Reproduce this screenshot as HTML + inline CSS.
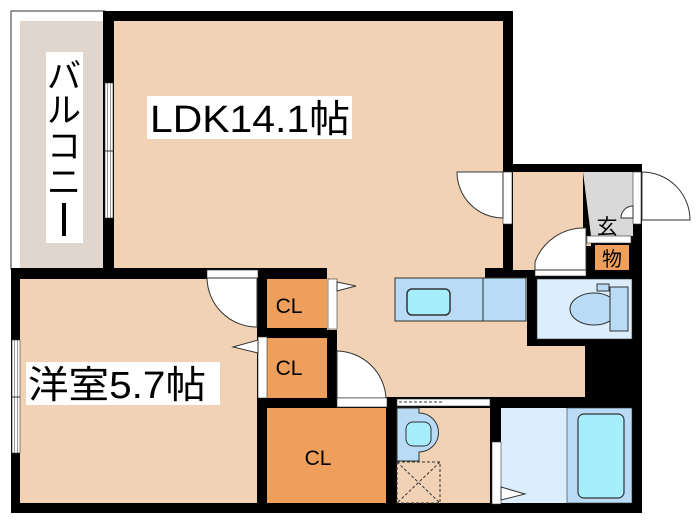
<!DOCTYPE html>
<html><head><meta charset="utf-8"><style>body{margin:0;background:#fff}svg{display:block}</style></head><body>
<svg width="700" height="525" viewBox="0 0 700 525" xmlns="http://www.w3.org/2000/svg" font-family="'Liberation Sans','Noto Sans CJK JP',sans-serif">
<rect width="700" height="525" fill="#fff"/>
<!-- balcony -->
<rect x="11" y="11" width="94" height="258" fill="#fff" stroke="#333" stroke-width="1"/>
<rect x="20" y="21" width="84" height="247" fill="#e0d6cd"/>
<!-- black base -->
<polygon points="103,11 513,11 513,164 642,164 642,513 11,513 11,268 103,268" fill="#000"/>
<!-- LDK floor -->
<rect x="114" y="21" width="389" height="247" fill="#f2d2b5"/>
<rect x="337" y="268" width="248" height="129" fill="#f2d2b5"/>
<rect x="327" y="268" width="12" height="62" fill="#f2d2b5"/>
<rect x="485" y="268" width="42" height="10" fill="#000"/>
<rect x="527" y="268" width="113" height="78" fill="#000"/>
<!-- entry hall -->
<rect x="513" y="172" width="70" height="98" fill="#f2d2b5"/>
<polygon points="583,172 633,172 633,236 591,236" fill="#d9d9d9"/>
<rect x="583" y="236" width="8" height="10" fill="#f2d2b5"/>
<rect x="595" y="245" width="34" height="25" fill="#ef9f5c"/>
<text x="612" y="266" font-size="20" text-anchor="middle" fill="#000">物</text>
<text x="607" y="234" font-size="21" text-anchor="middle" fill="#000">玄</text>
<rect x="587" y="236" width="44" height="7" fill="#fff" stroke="#333" stroke-width="0.6"/>
<!-- toilet -->
<rect x="537" y="279" width="95" height="60" fill="#dceefc" stroke="#333" stroke-width="0.6"/>
<ellipse cx="594" cy="309" rx="24" ry="16" fill="#b9dbf6" stroke="#333"/>
<rect x="610" y="287" width="18" height="44" fill="#b9dbf6" stroke="#333"/>
<rect x="597" y="284" width="12" height="7" fill="#b9dbf6" stroke="#333"/>
<rect x="535" y="270" width="51" height="6" fill="#fff" stroke="#333" stroke-width="0.6"/>
<path d="M535,270 L535,262 A52,52 0 0 1 586,228 L586,270 Z" fill="#fff" stroke="#333"/>
<!-- kitchen counter -->
<rect x="395" y="278" width="131" height="43" fill="#b9dbf6" stroke="#333"/>
<line x1="483" y1="278" x2="483" y2="321" stroke="#333"/>
<rect x="407" y="289" width="43" height="26" rx="5" fill="#a6eefb" stroke="#333" stroke-width="1.5"/>
<!-- LDK left window -->
<rect x="105" y="83" width="8" height="135" fill="#fff" stroke="#333" stroke-width="0.6"/>
<line x1="107.5" y1="83" x2="107.5" y2="218" stroke="#555" stroke-width="0.6"/><line x1="110.5" y1="83" x2="110.5" y2="218" stroke="#555" stroke-width="0.6"/>
<line x1="105" y1="151" x2="113" y2="151" stroke="#333"/>
<!-- LDK door to entry -->
<rect x="503" y="172" width="9" height="52" fill="#fff" stroke="#333" stroke-width="0.6"/>
<path d="M503,172 L457,172 A46,46 0 0 0 503,218 Z" fill="#fff" stroke="#333"/>
<!-- entrance door -->
<rect x="633" y="172" width="8" height="52" fill="#fff" stroke="#333" stroke-width="0.6"/>
<path d="M642,172 A48,48 0 0 1 690,220 L642,220 Z" fill="#fff" stroke="#333"/>
<path d="M621,218 A12,12 0 0 1 633,206 L633,218 Z" fill="#fff" stroke="#333"/>
<!-- western room -->
<rect x="20" y="279" width="237" height="224" fill="#f2d2b5"/>
<rect x="12" y="340" width="8" height="113" fill="#fff" stroke="#333" stroke-width="0.6"/>
<line x1="14.5" y1="340" x2="14.5" y2="453" stroke="#555" stroke-width="0.6"/><line x1="17.5" y1="340" x2="17.5" y2="453" stroke="#555" stroke-width="0.6"/>
<line x1="12" y1="397" x2="20" y2="397" stroke="#333"/>
<rect x="207" y="270" width="51" height="8" fill="#fff" stroke="#333" stroke-width="0.6"/>
<path d="M207,278 A50,50 0 0 0 257,327 L257,278 Z" fill="#fff" stroke="#333"/>
<!-- closets -->
<rect x="267" y="279" width="60" height="49" fill="#ef9f5c"/>
<rect x="267" y="338" width="60" height="60" fill="#ef9f5c"/>
<rect x="267" y="408" width="119" height="95" fill="#ef9f5c"/>
<rect x="328" y="279" width="9" height="50" fill="#fff" stroke="#333" stroke-width="0.6"/>
<polygon points="337,282 356,286 337,291" fill="#fff" stroke="#333"/>
<rect x="258" y="337" width="9" height="61" fill="#fff" stroke="#333" stroke-width="0.6"/>
<polygon points="258,340 233,347 258,353" fill="#fff" stroke="#333"/>
<text x="289" y="313" font-size="21" text-anchor="middle">CL</text>
<text x="289" y="375" font-size="21" text-anchor="middle">CL</text>
<text x="318" y="465" font-size="21" text-anchor="middle">CL</text>
<!-- door into washroom corridor -->
<path d="M337,351 A50,50 0 0 1 386,398 L337,398 Z" fill="#fff" stroke="#333"/>
<rect x="337" y="398" width="50" height="9" fill="#fff" stroke="#333" stroke-width="0.6"/>
<!-- washroom -->
<rect x="397" y="408" width="93" height="95" fill="#f2d2b5"/>
<rect x="397" y="399" width="93" height="7" fill="#fff" stroke="#333" stroke-width="0.6"/>
<line x1="399" y1="402" x2="442" y2="402" stroke="#333" stroke-dasharray="3,2"/>
<path d="M397,408 L419,408 L419,413 A16,16 0 0 1 419,452 L419,461 L397,461 Z" fill="#b9dbf6" stroke="#333"/>
<rect x="406" y="422" width="25" height="24" rx="7" fill="#a6eefb" stroke="#333"/>
<rect x="397" y="462" width="43" height="41" fill="none" stroke="#333" stroke-dasharray="3,2"/>
<line x1="397" y1="462" x2="440" y2="503" stroke="#333" stroke-dasharray="3,2"/><line x1="440" y1="462" x2="397" y2="503" stroke="#333" stroke-dasharray="3,2"/>
<!-- bath -->
<rect x="501" y="408" width="131" height="95" fill="#dceefc"/>
<rect x="567" y="408" width="65" height="95" fill="#b9dbf6" stroke="#333" stroke-width="0.6"/>
<rect x="578" y="414" width="46" height="84" rx="6" fill="#a6eefb" stroke="#333" stroke-width="1.2"/>
<rect x="492" y="442" width="9" height="62" fill="#fff" stroke="#333" stroke-width="0.6"/>
<polygon points="501,487 525,494 501,500" fill="#fff" stroke="#333"/>
<!-- labels -->
<rect x="46" y="52" width="37" height="191" fill="#fff"/>
<text x="64" y="88" font-size="34" text-anchor="middle">バ</text>
<text x="64" y="122" font-size="34" text-anchor="middle">ル</text>
<text x="64" y="158" font-size="34" text-anchor="middle">コ</text>
<text x="64" y="194" font-size="34" text-anchor="middle">ニ</text>
<rect x="62" y="203" width="4" height="33" fill="#000"/>
<rect x="147" y="96" width="205" height="43" fill="#fff"/>
<text x="150" y="132" font-size="38" textLength="200" lengthAdjust="spacingAndGlyphs">LDK14.1帖</text>
<rect x="26" y="362" width="194" height="43" fill="#fff"/>
<text x="28" y="398" font-size="38" textLength="178" lengthAdjust="spacingAndGlyphs">洋室5.7帖</text>
</svg>
</body></html>
